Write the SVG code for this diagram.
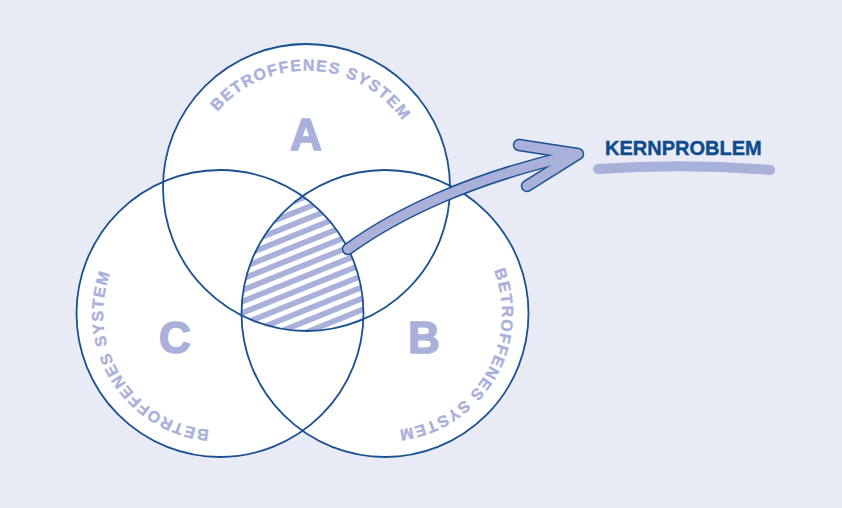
<svg xmlns="http://www.w3.org/2000/svg" width="842" height="508" viewBox="0 0 842 508">
<defs>
<style>
.bg{fill:#e8eaf6}
.cfill{fill:#ffffff}
.cstroke{fill:none;stroke:#1b5190;stroke-width:1.8}
.arc{font-family:"Liberation Sans",Arial,sans-serif;font-weight:bold;font-size:16px;letter-spacing:1.4px;fill:#a9b1db;stroke:#a9b1db;stroke-width:0.4}
.big{font-family:"Liberation Sans",Arial,sans-serif;font-weight:bold;font-size:44px;fill:#a9b1db;stroke:#a9b1db;stroke-width:1.6;stroke-linejoin:round;text-anchor:middle}
.title{font-family:"Liberation Sans",Arial,sans-serif;font-weight:bold;font-size:20px;fill:#0e4b8c;stroke:#0e4b8c;stroke-width:0.4}
.aout{fill:none;stroke:#1b5190;stroke-width:12.5;stroke-linecap:round;stroke-linejoin:round}
.ain{fill:none;stroke:#a9b1db;stroke-width:9.5;stroke-linecap:round;stroke-linejoin:round}
</style>
<pattern id="hatch" width="10.5" height="10.5" patternUnits="userSpaceOnUse" patternTransform="rotate(-22)">
<rect x="0" y="0" width="10.5" height="5.8" fill="#a9b1db"/>
<rect x="0" y="5.8" width="10.5" height="4.7" fill="#ffffff"/>
</pattern>
<clipPath id="clipA"><circle cx="306.5" cy="187.5" r="143.5"/></clipPath>
<clipPath id="clipB"><circle cx="385" cy="313.5" r="143.5"/></clipPath>
<clipPath id="clipC"><circle cx="220" cy="313.5" r="143.5"/></clipPath>
<path id="pathA" d="M242.8 285.6 A117 117 0 0 1 312.6 70.7 A117 117 0 0 1 359.6 291.7"/>
<path id="pathB" d="M328.3 211.2 A117 117 0 0 1 485.3 373.8 A117 117 0 0 1 268.0 311.5"/>
<path id="pathC" d="M336.9 309.4 A117 117 0 0 1 120.8 375.5 A117 117 0 0 1 274.9 210.2"/>
</defs>
<rect class="bg" x="0" y="0" width="842" height="508"/>
<g id="fills">
<circle class="cfill" cx="306.5" cy="187.5" r="143.5"/>
<circle class="cfill" cx="385" cy="313.5" r="143.5"/>
<circle class="cfill" cx="220" cy="313.5" r="143.5"/>
</g>
<g id="intersection" clip-path="url(#clipA)">
<g clip-path="url(#clipB)">
<g clip-path="url(#clipC)">
<rect x="230" y="180" width="150" height="160" fill="url(#hatch)"/>
</g>
</g>
</g>
<g id="circle-A">
<circle class="cstroke" cx="306.5" cy="187.5" r="143.5"/>
<text class="arc"><textPath href="#pathA" startOffset="50%" text-anchor="middle">BETROFFENES SYSTEM</textPath></text>
<text class="big" x="306" y="150">A</text>
</g>
<g id="circle-B">
<circle class="cstroke" cx="385" cy="313.5" r="143.5"/>
<text class="arc"><textPath href="#pathB" startOffset="50%" text-anchor="middle">BETROFFENES SYSTEM</textPath></text>
<text class="big" x="424" y="353">B</text>
</g>
<g id="circle-C">
<circle class="cstroke" cx="220" cy="313.5" r="143.5"/>
<text class="arc"><textPath href="#pathC" startOffset="50%" text-anchor="middle">BETROFFENES SYSTEM</textPath></text>
<text class="big" x="175" y="353">C</text>
</g>
<g id="connectors">
<path class="aout" d="M348 249 C395 215 470 178 574 155"/>
<path class="aout" d="M519 145 L578 154 L527 186"/>
<path class="ain" d="M348 249 C395 215 470 178 574 155"/>
<path class="ain" d="M519 145 L578 154 L527 186"/>
</g>
<g id="kernproblem">
<text class="title" x="605" y="155">KERNPROBLEM</text>
<path d="M598 169 Q685 163 770 170" fill="none" stroke="#a9b1db" stroke-width="10" stroke-linecap="round"/>
</g>
</svg>
